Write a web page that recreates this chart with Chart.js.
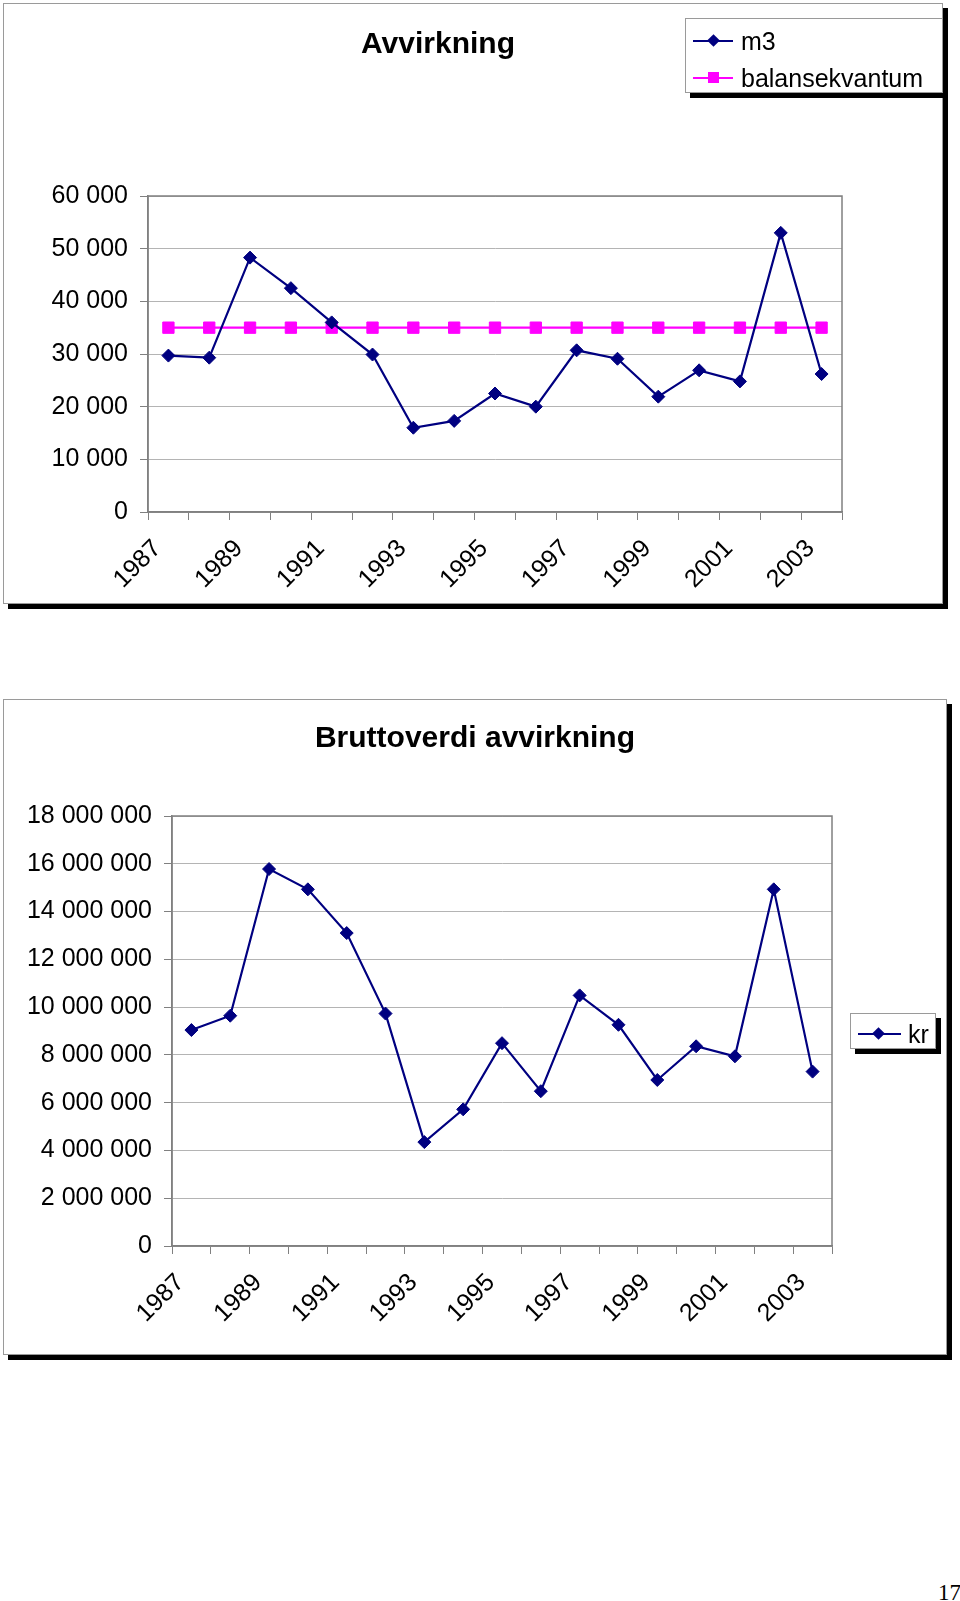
<!DOCTYPE html>
<html lang="no">
<head>
<meta charset="UTF-8">
<title>Avvirkning</title>
<script src="https://cdn.jsdelivr.net/npm/chart.js"></script>
<style>
    body {
        margin: 0;
        width: 960px;
        height: 1601px;
        position: relative;
        background: #fff;
        font-family: 'Liberation Sans', Arial, sans-serif;
        overflow: hidden;
    }
    .frame {
        position: absolute;
        box-sizing: border-box;
        border: 1px solid #9a9a9a;
        background: #fff;
        box-shadow: 5px 5px 0 #000;
    }
    canvas { position: absolute; left: 0; }
    .title {
        position: absolute;
        left: 0;
        font-weight: bold;
        font-size: 30px;
        line-height: 30px;
        text-align: center;
        color: #000;
    }
    .legend {
        position: absolute;
        box-sizing: border-box;
        border: 1px solid #9a9a9a;
        background: #fff;
        box-shadow: 5px 5px 0 #000;
    }
    .legend .line { position: absolute; height: 2px; }
    .legend .mark { position: absolute; }
    .legend .txt { position: absolute; font-size: 25px; line-height: 25px; white-space: nowrap; }
    .pagenr {
        position: absolute;
        left: 938px;
        top: 1581px;
        font-family: 'Liberation Serif', 'Times New Roman', serif;
        font-size: 23px;
        line-height: 23px;
    }
</style>
</head>
<body>
    <div class="frame" style="left:3px; top:3px; width:940px; height:601px;"></div>
    <div class="frame" style="left:3px; top:699px; width:944px; height:656px;"></div>

    <canvas id="chart1" width="960" height="620" style="top:0;"></canvas>
    <canvas id="chart2" width="960" height="680" style="top:690px;"></canvas>

    <div class="title" style="top:28px; width:876px;">Avvirkning</div>
    <div class="title" style="top:722px; width:950px;">Bruttoverdi avvirkning</div>

    <!-- legende diagram 1 -->
    <div class="legend" style="left:685px; top:18px; width:258px; height:75px;">
        <div class="line" style="left:7px; top:21px; width:40px; background:#000080;"></div>
        <div class="mark" style="left:23px; top:17px; width:9px; height:9px; background:#000080; transform:rotate(45deg);"></div>
        <div class="txt" style="left:55px; top:10px;">m3</div>
        <div class="line" style="left:7px; top:58px; width:40px; background:#ff00ff;"></div>
        <div class="mark" style="left:22px; top:53px; width:11px; height:11px; background:#ff00ff;"></div>
        <div class="txt" style="left:55px; top:47px;">balansekvantum</div>
    </div>

    <!-- legende diagram 2 -->
    <div class="legend" style="left:850px; top:1013px; width:86px; height:36px;">
        <div class="line" style="left:7px; top:19px; width:43px; background:#000080;"></div>
        <div class="mark" style="left:23px; top:15px; width:9px; height:9px; background:#000080; transform:rotate(45deg);"></div>
        <div class="txt" style="left:57px; top:8px;">kr</div>
    </div>

    <div class="pagenr">17</div>

<script>
    // data
    const years = ['1987', '1988', '1989', '1990', '1991', '1992', '1993', '1994', '1995',
                   '1996', '1997', '1998', '1999', '2000', '2001', '2002', '2003'];
    const m3 = [29700, 29300, 48300, 42500, 36000, 29900, 16000, 17300, 22500,
                20000, 30700, 29100, 21900, 26900, 24800, 53000, 26200];
    const balansekvantum = [35000, 35000, 35000, 35000, 35000, 35000, 35000, 35000, 35000,
                            35000, 35000, 35000, 35000, 35000, 35000, 35000, 35000];
    const kr = [9040000, 9640000, 15780000, 14930000, 13100000, 9730000, 4350000, 5720000, 8490000,
                6480000, 10490000, 9260000, 6950000, 8360000, 7940000, 14930000, 7300000];

    const tickFont = { family: "'Liberation Sans', Arial, sans-serif", size: 25 };

    // mellomrom som tusenskille
    function fmt(v) {
        return String(v).replace(/\B(?=(\d{3})+(?!\d))/g, ' ');
    }

    // grå ramme rundt plotteområdet
    const plotBorder = {
        id: 'plotBorder',
        beforeDatasetsDraw(chart) {
            const a = chart.chartArea;
            const c = chart.ctx;
            c.save();
            c.strokeStyle = '#808080';
            c.lineWidth = 1.5;
            c.strokeRect(a.left, a.top, a.right - a.left, a.bottom - a.top);
            c.restore();
        }
    };

    function makeOptions(pad, yWidth, xHeight, max, step) {
        return {
            responsive: false,
            animation: false,
            layout: { padding: pad },
            plugins: {
                legend: { display: false },
                title: { display: false },
                tooltip: { enabled: false }
            },
            scales: {
                x: {
                    offset: true,
                    grid: { offset: true, drawOnChartArea: false, tickLength: 8, color: '#808080' },
                    border: { color: '#808080', width: 1.5 },
                    ticks: {
                        autoSkip: false,
                        minRotation: 45,
                        maxRotation: 45,
                        font: tickFont,
                        color: '#000',
                        padding: 14,
                        labelOffset: -11,
                        callback: (v, i) => (i % 2 === 0 ? years[i] : '')
                    },
                    afterFit: s => { s.height = xHeight; }
                },
                y: {
                    min: 0,
                    max: max,
                    grid: { color: '#b4b4b4', tickColor: '#808080', tickLength: 8 },
                    border: { color: '#808080', width: 1.5 },
                    ticks: {
                        stepSize: step,
                        font: tickFont,
                        color: '#000',
                        padding: 12,
                        callback: v => fmt(v)
                    },
                    afterFit: s => { s.width = yWidth; }
                }
            }
        };
    }

    new Chart(document.getElementById('chart1'), {
        type: 'line',
        data: {
            labels: years,
            datasets: [{
                label: 'm3',
                data: m3,
                borderColor: '#000080',
                backgroundColor: '#000080',
                borderWidth: 2.2,
                tension: 0,
                pointStyle: 'rectRot',
                pointRadius: 6.5,
                pointBorderWidth: 1
            }, {
                label: 'balansekvantum',
                data: balansekvantum,
                borderColor: '#ff00ff',
                backgroundColor: '#ff00ff',
                borderWidth: 2.2,
                tension: 0,
                pointStyle: 'rect',
                pointRadius: 8,
                pointBorderWidth: 1
            }]
        },
        options: makeOptions({ top: 196, right: 118, left: 0, bottom: 0 }, 148, 108, 60000, 10000),
        plugins: [plotBorder]
    });

    new Chart(document.getElementById('chart2'), {
        type: 'line',
        data: {
            labels: years,
            datasets: [{
                label: 'kr',
                data: kr,
                borderColor: '#000080',
                backgroundColor: '#000080',
                borderWidth: 2.2,
                tension: 0,
                pointStyle: 'rectRot',
                pointRadius: 6.5,
                pointBorderWidth: 1
            }]
        },
        options: makeOptions({ top: 126, right: 128, left: 0, bottom: 0 }, 172, 124, 18000000, 2000000),
        plugins: [plotBorder]
    });
</script>
</body>
</html>
